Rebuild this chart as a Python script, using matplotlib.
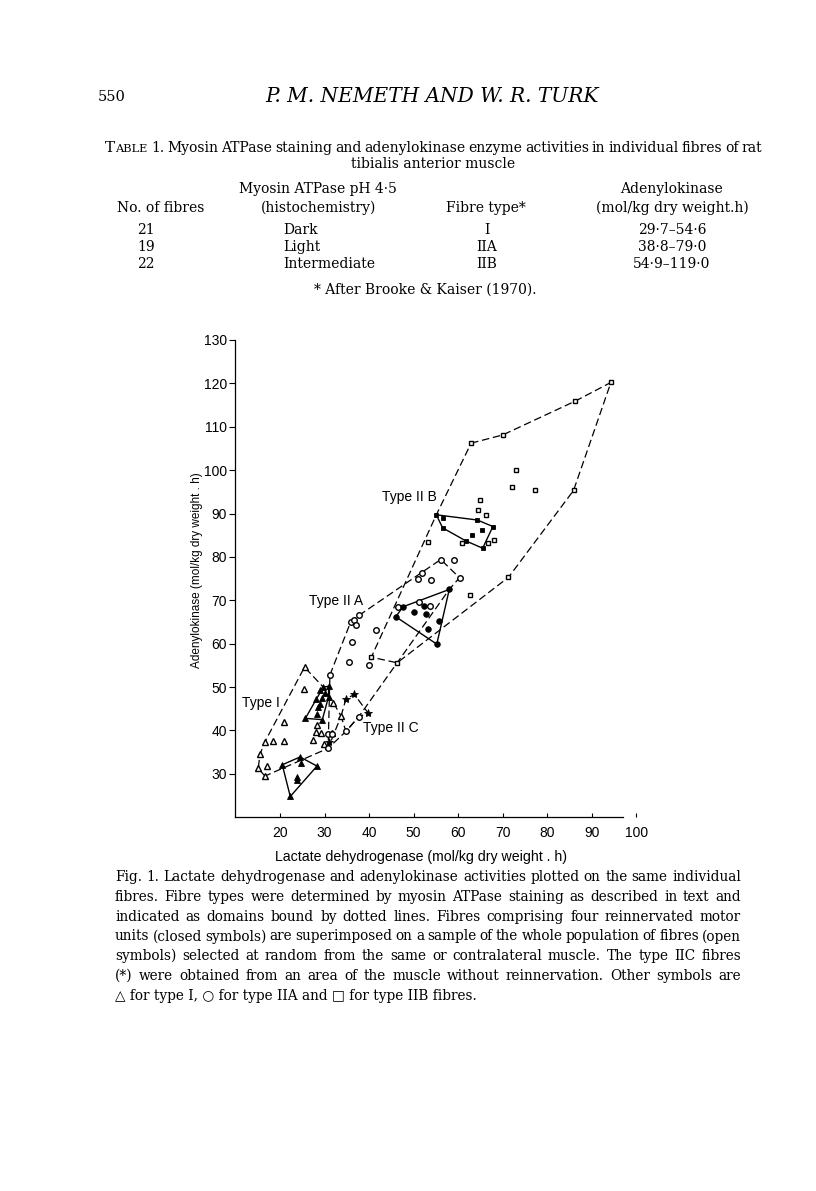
import matplotlib
matplotlib.use("Agg")
import matplotlib.pyplot as plt

# ---- data (LDH, adenylokinase) ----
# Type I, open triangles
t1_x = [16.6, 15.1, 15.5, 16.6, 17.0, 18.5, 21.0, 21.0, 25.3, 25.5, 27.4, 28.0, 28.2, 29.3, 29.9, 31.6, 32.0, 33.7]
t1_y = [29.5, 31.3, 34.5, 37.4, 31.9, 37.5, 37.5, 42.0, 49.5, 54.6, 37.8, 39.7, 41.2, 39.5, 36.9, 39.5, 46.4, 43.3]
# Type I, reinnervated (filled triangles), two motor units
t1u_x = [25.7, 29.7, 30.9, 30.9, 29.5, 29.0, 28.1, 29.4, 30.2, 28.6, 28.4, 29.0]
t1u_y = [42.8, 50.0, 50.2, 47.8, 42.5, 49.3, 47.2, 47.6, 48.7, 45.5, 43.9, 46.0]
t1v_x = [20.5, 24.5, 28.3, 22.3, 24.6, 23.7, 23.7]
t1v_y = [32.1, 33.9, 31.8, 24.8, 32.5, 29.4, 28.7]

# Type IIA, open circles
t2a_x = [56.1, 59.1, 51.8, 51.0, 53.9, 60.3, 46.5, 51.3, 53.7, 41.5, 35.9, 36.6, 37.7, 37.1, 36.2, 35.4, 40.0, 31.2, 37.7, 34.8, 30.7, 31.6, 30.8]
t2a_y = [79.4, 79.3, 76.4, 74.8, 74.7, 75.2, 68.5, 69.5, 68.6, 63.2, 65.1, 65.5, 66.5, 64.4, 60.5, 55.7, 55.0, 52.8, 43.2, 39.8, 39.1, 39.2, 35.9]
# Type IIA, reinnervated (filled circles)
t2au_x = [58.0, 55.2, 46.0, 47.6, 52.4, 50.1, 52.8, 55.6, 53.2]
t2au_y = [72.5, 59.9, 66.2, 68.5, 68.8, 67.4, 66.9, 65.2, 63.4]

# Type IIB, open squares
t2b_x = [94.3, 86.3, 70.0, 62.9, 72.9, 72.1, 77.3, 85.9, 64.8, 64.5, 66.3, 53.3, 60.8, 66.6, 68.1, 62.6, 71.3, 46.3, 40.5]
t2b_y = [120.2, 115.9, 108.1, 106.2, 100.0, 96.0, 95.5, 95.3, 93.0, 90.9, 89.7, 83.4, 83.1, 83.3, 83.9, 71.2, 75.3, 55.6, 56.9]
# Type IIB, reinnervated (filled squares)
t2bu_x = [55.1, 56.7, 64.3, 67.8, 56.5, 61.7, 65.5, 63.0, 65.3]
t2bu_y = [89.7, 88.9, 88.5, 87.0, 86.7, 83.7, 82.0, 85.1, 86.2]

# Type IIC (*)
t2c_x = [34.8, 36.7, 39.8, 30.9]
t2c_y = [47.3, 48.3, 44.0, 37.3]

# domain outlines (dotted in the original)
dom_i = [(16.6, 29.5), (15.1, 31.3), (15.5, 34.5), (16.6, 37.4), (25.5, 54.6), (29.7, 50.0),
         (32.0, 46.4), (33.7, 43.3), (30.8, 35.9), (16.6, 29.5)]
dom_iia = [(31.2, 52.8), (35.9, 65.1), (37.7, 66.5), (51.8, 76.4), (56.1, 79.4), (60.3, 75.2),
           (58.0, 72.5), (46.3, 55.6), (37.7, 43.2), (34.8, 39.8), (30.8, 35.9), (31.2, 52.8)]
dom_iib = [(62.9, 106.2), (70.0, 108.1), (86.3, 115.9), (94.3, 120.2), (85.9, 95.3), (71.3, 75.3),
           (46.3, 55.6), (40.5, 56.9), (55.1, 89.7), (62.9, 106.2)]
dom_iic = [(33.7, 43.3), (34.8, 47.3), (36.7, 48.3), (39.8, 44.0), (37.7, 43.2), (34.8, 39.8), (33.7, 43.3)]
# reinnervated motor units (solid)
unit_i1 = [(25.7, 42.8), (29.7, 50.0), (30.9, 50.2), (30.9, 47.8), (29.5, 42.5), (25.7, 42.8)]
unit_i2 = [(20.5, 32.1), (24.5, 33.9), (28.3, 31.8), (22.3, 24.8), (20.5, 32.1)]
unit_iia = [(47.6, 68.5), (58.0, 72.5), (55.2, 59.9), (46.0, 66.2), (47.6, 68.5)]
unit_iib = [(55.1, 89.7), (64.3, 88.5), (67.8, 87.0), (65.5, 82.0), (61.7, 83.7), (56.5, 86.7), (55.1, 89.7)]

region_labels = ["Type I", "Type II A", "Type II B", "Type II C"]
label_pos = [(11.5, 46.4), (26.5, 69.8), (42.8, 93.9), (38.6, 40.6)]

x_ticks = [20, 30, 40, 50, 60, 70, 80, 90, 100]
y_ticks = [30, 40, 50, 60, 70, 80, 90, 100, 110, 120, 130]

# ---- page text ----
caption = [
    "Fig. 1. Lactate dehydrogenase and adenylokinase activities plotted on the same individual",
    "fibres. Fibre types were determined by myosin ATPase staining as described in text and",
    "indicated as domains bound by dotted lines. Fibres comprising four reinnervated motor",
    "units (closed symbols) are superimposed on a sample of the whole population of fibres (open",
    "symbols) selected at random from the same or contralateral muscle. The type IIC fibres",
    "(*) were obtained from an area of the muscle without reinnervation. Other symbols are",
    "\u25b3 for type I, \u25cb for type IIA and \u25a1 for type IIB fibres.",
]
title1 = "1. Myosin ATPase staining and adenylokinase enzyme activities in individual fibres of rat"
tab_n = ["21", "19", "22"]
tab_stain = ["Dark", "Light", "Intermediate"]
tab_type = ["I", "IIA", "IIB"]
tab_ak = ["29\u00b77\u201354\u00b76", "38\u00b78\u201379\u00b70", "54\u00b79\u2013119\u00b70"]

W, H = 816, 1191
fig = plt.figure(figsize=(W / 100, H / 100), dpi=100)
rend = fig.canvas.get_renderer()
SERIF = ["DejaVu Serif", "DejaVu Sans"]


def put(x, y, s, size=10, ha="left", **kw):
    return fig.text(x / W, 1 - y / H, s, ha=ha, va="center", fontsize=size,
                    family=kw.pop("family", SERIF), **kw)


def words_width(s, size):
    tot = 0
    for w in s.split():
        t = put(0, 0, w, size)
        tot += t.get_window_extent(rend).width
        t.remove()
    return tot + 2.8 * (len(s.split()) - 1)


def fit_size(lines, width, start):
    s = start
    while s > 6 and max(words_width(l, s) for l in lines) > width:
        s -= 0.1
    return s


def justify(line, x0, x1, y, size):
    words = line.split()
    objs = [put(0, y, w, size) for w in words]
    widths = [o.get_window_extent(rend).width for o in objs]
    gap = (x1 - x0 - sum(widths)) / (len(words) - 1)
    x = x0
    for o, w in zip(objs, widths):
        o.set_x(x / W)
        x += w + gap


# header
put(98, 97, "550", 10.5)
put(432, 97, "P. M. NEMETH AND W. R. TURK", 14.5, ha="center", style="italic")

# table title, with small caps "TABLE"
t = put(105, 148, "T", 10.8)
x = 105 + t.get_window_extent(rend).width
t = put(x, 148.8, "ABLE", 8.2)
x += t.get_window_extent(rend).width + 4
ts = fit_size([title1], 762 - x, 10.8)
justify(title1, x, 762, 148, ts)
put(433, 164, "tibialis anterior muscle", ts, ha="center")

put(318, 189, "Myosin ATPase pH 4\u00b75", 10, ha="center")
put(671, 189, "Adenylokinase", 10, ha="center")
put(161, 208, "No. of fibres", 10, ha="center")
put(319, 208, "(histochemistry)", 10, ha="center")
put(486, 208, "Fibre type*", 10, ha="center")
put(672, 208, "(mol/kg dry weight.h)", 10, ha="center")
for i, yy in enumerate([230, 247, 264]):
    put(146, yy, tab_n[i], 10, ha="center")
    put(283, yy, tab_stain[i], 10)
    put(487, yy, tab_type[i], 10, ha="center")
    put(672, yy, tab_ak[i], 10, ha="center")
put(425, 290, "* After Brooke & Kaiser (1970).", 10, ha="center")

# caption, justified
cs = fit_size(caption[:-1], 741 - 115, 11.0)
for i, line in enumerate(caption):
    yy = 877 + i * 19.8
    if i < len(caption) - 1:
        justify(line, 115, 741, yy, cs)
    else:
        put(115, yy, line, cs)

# ---- the plot ----
ax = fig.add_axes([235.5 / W, 1 - 817.3 / H, 400.8 / W, 477.4 / H])

dash = (0, (6, 3))
for poly in [dom_i, dom_iia, dom_iib, dom_iic]:
    ax.plot([p[0] for p in poly], [p[1] for p in poly], color="black", lw=0.9, ls=dash, zorder=2)
for poly in [unit_i1, unit_i2, unit_iia, unit_iib]:
    ax.plot([p[0] for p in poly], [p[1] for p in poly], color="black", lw=1.0, zorder=2)

op = dict(ls="none", mfc="white", mec="black", mew=1.0, zorder=3)
fl = dict(ls="none", mfc="black", mec="black", mew=0.6, zorder=4)
ax.plot(t1_x, t1_y, "^", ms=4.2, **op)
ax.plot(t2a_x, t2a_y, "o", ms=4.0, **op)
ax.plot(t2b_x, t2b_y, "s", ms=3.5, **op)
ax.plot(t1u_x + t1v_x, t1u_y + t1v_y, "^", ms=4.2, **fl)
ax.plot(t2au_x, t2au_y, "o", ms=4.0, **fl)
ax.plot(t2bu_x, t2bu_y, "s", ms=3.5, **fl)
ax.plot(t2c_x, t2c_y, "*", ms=6, **fl)

SANS = ["Liberation Sans", "DejaVu Sans"]
for s, (lx, ly) in zip(region_labels, label_pos):
    ax.text(lx, ly, s, fontsize=10, family=SANS, ha="left", va="center")

ax.set_xlim(10, 100)
ax.set_ylim(20, 130)
ax.set_xticks(x_ticks)
ax.set_yticks(y_ticks)
ax.set_xticklabels([str(v) for v in x_ticks], family=SANS, fontsize=10)
ax.set_yticklabels([str(v) for v in y_ticks], family=SANS, fontsize=10)
ax.tick_params(axis="x", direction="in", length=3, width=0.8, pad=6)
ax.tick_params(axis="y", direction="out", length=4, width=0.8, pad=2)
for s in ["top", "right"]:
    ax.spines[s].set_visible(False)
ax.spines["bottom"].set_bounds(10, 97)
ax.spines["left"].set_linewidth(0.9)
ax.spines["bottom"].set_linewidth(0.9)
ax.set_xlabel("Lactate dehydrogenase (mol/kg dry weight . h)", family=SANS, fontsize=10.2)
ax.set_ylabel("Adenylokinase (mol/kg dry weight . h)", family=SANS, fontsize=8.5)
ax.xaxis.set_label_coords((421.5 - 235.5) / 400.8, -(850 - 817.3) / 477.4)
ax.yaxis.set_label_coords((203 - 235.5) / 400.8, (817.3 - 570) / 477.4)

fig.savefig("out.png", dpi=100)
